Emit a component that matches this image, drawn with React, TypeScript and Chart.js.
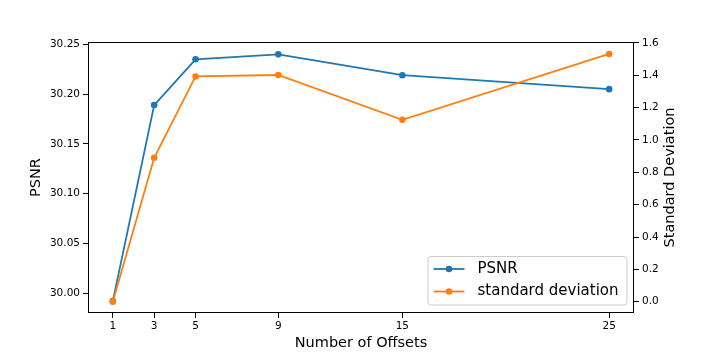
import React, { useEffect, useRef } from "react";
import { Chart, registerables } from "chart.js";

Chart.register(...registerables);

const offsets = [1, 3, 5, 9, 15, 25];
const psnrValues = [29.992, 30.189, 30.235, 30.24, 30.219, 30.205];
const stdValues = [0.0, 0.89, 1.393, 1.402, 1.125, 1.532];
const xTicks = [1, 3, 5, 9, 15, 25];
const psnrTicks = [30.0, 30.05, 30.1, 30.15, 30.2, 30.25];
const stdTicks = [0.0, 0.2, 0.4, 0.6, 0.8, 1.0, 1.2, 1.4, 1.6];

const BLUE = "#1f77b4";
const ORANGE = "#ff7f0e";
const FONT = "'DejaVu Sans', sans-serif";

const extrasPlugin = {
  id: "extras",
  afterDraw(chart: any) {
    const { ctx, chartArea } = chart;
    ctx.save();
    // spine box
    ctx.strokeStyle = "#000";
    ctx.lineWidth = 1;
    ctx.strokeRect(
      Math.round(chartArea.left) + 0.5,
      Math.round(chartArea.top) + 0.5,
      Math.round(chartArea.right - chartArea.left) - 1,
      Math.round(chartArea.bottom - chartArea.top) - 1
    );
    // right axis title (reads bottom-to-top)
    ctx.fillStyle = "#000";
    ctx.font = `14.5px ${FONT}`;
    ctx.textAlign = "center";
    ctx.textBaseline = "middle";
    ctx.translate(670, (chartArea.top + chartArea.bottom) / 2);
    ctx.rotate(-Math.PI / 2);
    ctx.fillText("Standard Deviation", 0, 0);
    ctx.restore();

    // legend (lower right)
    ctx.save();
    const right = chartArea.right - 7;
    const bottom = chartArea.bottom - 8;
    const w = 199;
    const h = 48.5;
    const left = right - w;
    const top = bottom - h;
    const r = 3;
    ctx.beginPath();
    ctx.moveTo(left + r, top);
    ctx.lineTo(right - r, top);
    ctx.quadraticCurveTo(right, top, right, top + r);
    ctx.lineTo(right, bottom - r);
    ctx.quadraticCurveTo(right, bottom, right - r, bottom);
    ctx.lineTo(left + r, bottom);
    ctx.quadraticCurveTo(left, bottom, left, bottom - r);
    ctx.lineTo(left, top + r);
    ctx.quadraticCurveTo(left, top, left + r, top);
    ctx.closePath();
    ctx.fillStyle = "rgba(255,255,255,0.8)";
    ctx.fill();
    ctx.strokeStyle = "#cccccc";
    ctx.lineWidth = 1;
    ctx.stroke();

    const items = chart.data.datasets.map((d: any) => ({ label: d.label, color: d.borderColor }));
    const rows = [top + 12.5, top + 35];
    items.forEach((it: any, i: number) => {
      const y = rows[i];
      const x0 = left + 5.5;
      const x1 = x0 + 31;
      ctx.strokeStyle = it.color;
      ctx.lineWidth = 1.8;
      ctx.beginPath();
      ctx.moveTo(x0, y);
      ctx.lineTo(x1, y);
      ctx.stroke();
      ctx.fillStyle = it.color;
      ctx.beginPath();
      ctx.arc((x0 + x1) / 2, y, 3.3, 0, Math.PI * 2);
      ctx.fill();
      ctx.fillStyle = "#000";
      ctx.font = `15px ${FONT}`;
      ctx.textAlign = "left";
      ctx.textBaseline = "middle";
      ctx.fillText(it.label, left + 49.5, y);
    });
    ctx.restore();
  },
};

export default function App() {
  const ref = useRef<HTMLCanvasElement>(null);

  useEffect(() => {
    if (!ref.current) return;
    const tickFont = { family: FONT, size: 10.5 };
    const gridOpts = { drawOnChartArea: false, drawTicks: true, tickLength: 5, tickColor: "#000", tickWidth: 1 };
    const chart = new Chart(ref.current, {
      type: "line",
      data: {
        datasets: [
          {
            label: "PSNR",
            data: offsets.map((x, i) => ({ x, y: psnrValues[i] })),
            borderColor: BLUE,
            backgroundColor: BLUE,
            borderWidth: 1.8,
            pointRadius: 3.3,
            pointBorderWidth: 0,
            pointBackgroundColor: BLUE,
            yAxisID: "y",
            order: 1,
          },
          {
            label: "standard deviation",
            data: offsets.map((x, i) => ({ x, y: stdValues[i] })),
            borderColor: ORANGE,
            backgroundColor: ORANGE,
            borderWidth: 1.8,
            pointRadius: 3.3,
            pointBorderWidth: 0,
            pointBackgroundColor: ORANGE,
            yAxisID: "y1",
            order: 0,
          },
        ],
      },
      options: {
        responsive: false,
        animation: false,
        devicePixelRatio: 1,
        layout: { padding: { top: 42, left: 0, right: 0, bottom: 0 } },
        plugins: { legend: { display: false }, tooltip: { enabled: false } },
        scales: {
          x: {
            type: "linear",
            min: -0.2,
            max: 26.2,
            afterBuildTicks: (s: any) => {
              s.ticks = xTicks.map((v) => ({ value: v }));
            },
            afterFit: (s: any) => {
              s.height = 41;
            },
            ticks: {
              font: tickFont,
              color: "#000",
              padding: 2,
              maxRotation: 0,
              autoSkip: false,
              callback: (v: any) => String(v),
            },
            grid: gridOpts,
            border: { display: false },
            title: {
              display: true,
              text: "Number of Offsets",
              font: { family: FONT, size: 14.5 },
              color: "#000",
              padding: { top: 0, bottom: 2 },
            },
          },
          y: {
            type: "linear",
            position: "left",
            min: 29.98,
            max: 30.2524,
            afterBuildTicks: (s: any) => {
              s.ticks = psnrTicks.map((v) => ({ value: v }));
            },
            afterFit: (s: any) => {
              s.width = 88;
            },
            ticks: {
              font: tickFont,
              color: "#000",
              padding: 3,
              autoSkip: false,
              callback: (v: any) => Number(v).toFixed(2),
            },
            grid: gridOpts,
            border: { display: false },
            title: {
              display: true,
              text: "PSNR",
              font: { family: FONT, size: 14.5 },
              color: "#000",
              padding: { top: 28, bottom: 0 },
            },
          },
          y1: {
            type: "linear",
            position: "right",
            min: -0.07,
            max: 1.606,
            afterBuildTicks: (s: any) => {
              s.ticks = stdTicks.map((v) => ({ value: v }));
            },
            afterFit: (s: any) => {
              s.width = 72;
            },
            ticks: {
              font: tickFont,
              color: "#000",
              padding: 3,
              autoSkip: false,
              callback: (v: any) => Number(v).toFixed(1),
            },
            grid: gridOpts,
            border: { display: false },
            title: { display: false },
          },
        },
      },
      plugins: [extrasPlugin],
    } as any);
    return () => chart.destroy();
  }, []);

  return (
    <div style={{ position: "absolute", left: 0, top: 0, width: 706, height: 354, background: "#fff" }}>
      <canvas ref={ref} width={706} height={354} style={{ display: "block" }} />
    </div>
  );
}
